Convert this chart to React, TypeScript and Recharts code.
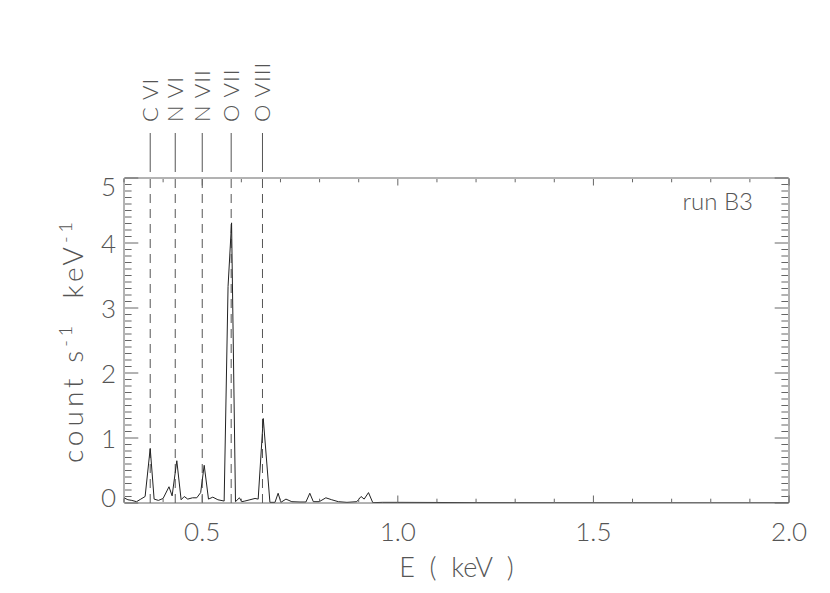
import { LineChart, Line, XAxis, YAxis, ReferenceLine } from "recharts"

// spectrum: energy (keV) and count rate
const energy = [
  0.3, 0.31, 0.32, 0.332, 0.343, 0.354, 0.367, 0.377, 0.388, 0.4,
  0.415, 0.423, 0.435, 0.446, 0.454, 0.463, 0.475, 0.486, 0.496, 0.505,
  0.516, 0.527, 0.54, 0.556, 0.566, 0.575, 0.585, 0.595, 0.601, 0.609,
  0.622, 0.635, 0.643, 0.656, 0.673, 0.686, 0.694, 0.701, 0.714, 0.729,
  0.75, 0.765, 0.775, 0.784, 0.799, 0.816, 0.831, 0.848, 0.87, 0.895,
  0.906, 0.914, 0.925, 0.936, 0.96, 1.0, 1.1, 1.2, 1.4, 1.6,
  1.8, 2.0,
]
const counts = [
  0.08, 0.05, 0.04, 0.02, 0.06, 0.1, 0.84, 0.06, 0.04, 0.07,
  0.25, 0.11, 0.65, 0.05, 0.1, 0.06, 0.08, 0.08, 0.16, 0.58,
  0.06, 0.09, 0.05, 0.03, 3.33, 4.31, 0.02, 0.08, 0.02, 0.03,
  0.05, 0.07, 0.06, 1.3, 0.01, 0.01, 0.15, 0.01, 0.06, 0.02,
  0.015, 0.015, 0.15, 0.02, 0.02, 0.08, 0.05, 0.02, 0.01, 0.02,
  0.1, 0.06, 0.16, 0.005, 0.01, 0.01, 0.008, 0.005, 0.003, 0.002,
  0.001, 0.001,
]

const lineNames = ["C VI", "N VI", "N VII", "O VII", "O VIII"]
const lineEnergies = [0.367, 0.431, 0.5, 0.574, 0.654]

const xTicks = [0.3, 0.4, 0.5, 0.6, 0.7, 0.8, 0.9, 1.0, 1.1, 1.2, 1.3, 1.4, 1.5, 1.6, 1.7, 1.8, 1.9, 2.0]
const xLabelTicks = [0.5, 1.0, 1.5, 2.0]
const yLabelTicks = [0, 1, 2, 3, 4, 5]
const yTicks = Array.from({ length: 51 }, (_, i) => i / 10)

const data = energy.map((e, i) => ({ e, c: counts[i] }))

const ink = "#555"
const frame = "#666"
const font = "Lato, 'Liberation Sans', sans-serif"
const fs = 26

const isXMajor = (v: number) => xLabelTicks.some((t) => Math.abs(t - v) < 1e-6)
const isYMajor = (v: number) => yLabelTicks.some((t) => Math.abs(t - v) < 1e-6)

function BottomTick({ x, y, payload }: any) {
  const major = isXMajor(payload.value)
  return (
    <g>
      <line x1={x} x2={x} y1={y - 1} y2={y - 1 - (major ? 6.5 : 3.3)} stroke={frame} />
      {major && (
        <text x={x} y={y + 38} textAnchor="middle" fill={ink} fontSize={fs} fontFamily={font} fontWeight={300}>
          {payload.value.toFixed(1)}
        </text>
      )}
    </g>
  )
}

function TopTick({ x, y, payload }: any) {
  const major = isXMajor(payload.value)
  return <line x1={x} x2={x} y1={y + 1} y2={y + 1 + (major ? 6.5 : 3.3)} stroke={frame} />
}

function LeftTick({ x, y, payload }: any) {
  const v = payload.value
  const major = isYMajor(v)
  let shift = 0
  if (v === 5) shift = 8
  if (v === 0) shift = -6
  return (
    <g>
      <line x1={x + 1} x2={x + 1 + (major ? 13.3 : 6.6)} y1={y} y2={y} stroke={frame} />
      {major && (
        <text x={x - 8} y={y + 9.5 + shift} textAnchor="end" fill={ink} fontSize={fs} fontFamily={font} fontWeight={300}>
          {v}
        </text>
      )}
    </g>
  )
}

function RightTick({ x, y, payload }: any) {
  const major = isYMajor(payload.value)
  return <line x1={x - 1} x2={x - 1 - (major ? 13.3 : 6.6)} y1={y} y2={y} stroke={frame} />
}

function LineTag({ viewBox, name }: any) {
  const { x, y } = viewBox
  const y0 = y - 56
  return (
    <g>
      <line x1={x} x2={x} y1={y - 6} y2={y - 45} stroke={ink} />
      <text
        x={x}
        y={y0}
        dy={7.5}
        transform={`rotate(-90 ${x} ${y0})`}
        fill={ink}
        fontSize={22}
        fontFamily={font}
        fontWeight={300}
        letterSpacing={1}
      >
        {name}
      </text>
    </g>
  )
}

function XTitle({ viewBox }: any) {
  const { x, y, width } = viewBox
  return (
    <text x={x + width / 2} y={y + 74} textAnchor="middle" fill={ink} fontSize={27} fontFamily={font} fontWeight={300} style={{ whiteSpace: "pre" }}>
      {"E  (  keV  )"}
    </text>
  )
}

function YTitle({ viewBox }: any) {
  const { x, y, height } = viewBox
  const cx = x - 40
  const cy = y + height / 2
  return (
    <text
      x={cx}
      y={cy}
      textAnchor="middle"
      transform={`rotate(-90 ${cx} ${cy})`}
      fill={ink}
      fontSize={28}
      fontFamily={font}
      fontWeight={300}
      letterSpacing={4}
      style={{ whiteSpace: "pre" }}
    >
      {"count s"}
      <tspan dy={-11} fontSize={18}>-1</tspan>
      <tspan dy={11}>{"  keV"}</tspan>
      <tspan dy={-11} fontSize={18}>-1</tspan>
    </text>
  )
}

function RunTag({ viewBox }: any) {
  const { x, y } = viewBox
  return (
    <text x={x - 36} y={y + 32} textAnchor="end" fill={ink} fontSize={24} fontFamily={font} fontWeight={300}>
      run B3
    </text>
  )
}

export default function App() {
  return (
    <div style={{ width: 830, height: 593, background: "#fff" }}>
      <style>{"body{margin:0}"}</style>
      <LineChart width={830} height={593} data={data} margin={{ top: 177, right: 40, bottom: 89, left: 123 }}>
        <XAxis
          dataKey="e"
          type="number"
          domain={[0.3, 2.0]}
          ticks={xTicks}
          interval={0}
          height={1}
          tickSize={0}
          tickMargin={0}
          tickLine={false}
          axisLine={{ stroke: frame }}
          tick={(p: any) => <BottomTick {...p} />}
          label={{ content: (p: any) => <XTitle {...p} /> }}
          allowDataOverflow
        />
        <XAxis
          xAxisId="top"
          dataKey="e"
          orientation="top"
          type="number"
          domain={[0.3, 2.0]}
          ticks={xTicks}
          interval={0}
          height={1}
          tickSize={0}
          tickMargin={0}
          tickLine={false}
          axisLine={{ stroke: frame }}
          tick={(p: any) => <TopTick {...p} />}
          allowDataOverflow
        />
        <YAxis
          type="number"
          domain={[0, 5]}
          ticks={yTicks}
          interval={0}
          width={1}
          tickSize={0}
          tickMargin={0}
          tickLine={false}
          axisLine={{ stroke: frame }}
          tick={(p: any) => <LeftTick {...p} />}
          label={{ content: (p: any) => <YTitle {...p} /> }}
          allowDataOverflow
        />
        <YAxis
          yAxisId="right"
          orientation="right"
          type="number"
          domain={[0, 5]}
          ticks={yTicks}
          interval={0}
          width={1}
          tickSize={0}
          tickMargin={0}
          tickLine={false}
          axisLine={{ stroke: frame }}
          tick={(p: any) => <RightTick {...p} />}
          label={{ content: (p: any) => <RunTag {...p} /> }}
          allowDataOverflow
        />
        {lineEnergies.map((e, i) => (
          <ReferenceLine
            key={lineNames[i]}
            x={e}
            stroke={ink}
            strokeDasharray="9 6"
            label={(p: any) => <LineTag {...p} name={lineNames[i]} />}
          />
        ))}
        <Line
          type="linear"
          dataKey="c"
          stroke="#222"
          strokeWidth={1}
          dot={false}
          isAnimationActive={false}
        />
      </LineChart>
    </div>
  )
}
